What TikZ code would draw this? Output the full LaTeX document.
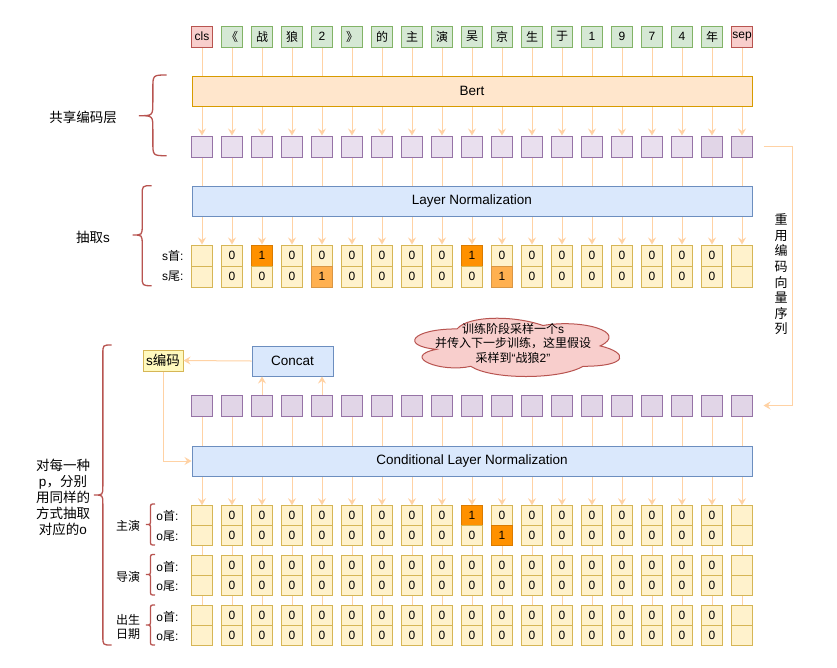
\documentclass[tikz,border=0pt]{standalone}
\usepackage{fontspec}
\setmainfont{Liberation Sans}
\newfontfamily\cjk{Noto Sans CJK SC}
\usetikzlibrary{arrows.meta,backgrounds,calc}
\newcommand\zh[1]{{\cjk #1}}
\definecolor{tokF}{HTML}{D5E8D4}\definecolor{tokD}{HTML}{82B366}
\definecolor{redF}{HTML}{F8CECC}\definecolor{redD}{HTML}{B85450}
\definecolor{bertF}{HTML}{FFE6CC}\definecolor{bertD}{HTML}{D79B00}
\definecolor{purF}{HTML}{E1D5E7}\definecolor{purL}{HTML}{E9DFEE}\definecolor{purD}{HTML}{9673A6}
\definecolor{bluF}{HTML}{DAE8FC}\definecolor{bluD}{HTML}{6C8EBF}
\definecolor{yelF}{HTML}{FFF2CC}\definecolor{yelD}{HTML}{D6B656}
\definecolor{orD}{HTML}{FF9100}\definecolor{orL}{HTML}{FFB050}
\definecolor{arrC}{HTML}{FFD2A4}
\definecolor{sencF}{HTML}{FFF9BE}
\newcommand\cellrow[4]{\foreach \v/\s [count=\i from 0] in #4 {\node[cell, minimum height=#3, \s] (#1\i) at ({202+30*\i},#2) {\v};}}
\newcommand\mybrace[5]{% tip x, end x, top y, bottom y, tip y
  \pgfmathsetmacro\xm{(#1+#2)/2}\pgfmathsetmacro\rr{(#2-#1)/2}
  \draw[brc] (#2,#3) .. controls (\xm,#3) .. (\xm,#3+\rr) -- (\xm,#5-\rr) .. controls (\xm,#5) .. (#1,#5)
    .. controls (\xm,#5) .. (\xm,#5+\rr) -- (\xm,#4-\rr) .. controls (\xm,#4) .. (#2,#4);}
\def\zl{{}/cy,0/cy,0/cy,0/cy,0/cy,0/cy,0/cy,0/cy,0/cy,0/cy,0/cy,0/cy,0/cy,0/cy,0/cy,0/cy,0/cy,0/cy,{}/cy}
\begin{document}
\begin{tikzpicture}[x=1pt,y=-1pt,
  base/.style={line width=1pt, inner sep=0pt},
  tok/.style={base, draw=tokD, fill=tokF, minimum width=21pt, minimum height=21pt, font=\fontsize{12}{12}\selectfont},
  tokr/.style={tok, draw=redD, fill=redF},
  pur/.style={base, draw=purD, fill=purF, minimum width=21pt, minimum height=21pt},
  purl/.style={pur, fill=purL},
  wide/.style={base, minimum width=560pt, minimum height=30pt, font=\fontsize{13.5}{13.5}\selectfont},
  bert/.style={wide, draw=bertD, fill=bertF},
  blu/.style={wide, draw=bluD, fill=bluF},
  cell/.style={base, draw=yelD, minimum width=20.5pt, font=\fontsize{12}{12}\selectfont},
  cy/.style={fill=yelF},
  co/.style={fill=orD, draw=orD!85!black},
  ch/.style={fill=orL, draw=orL!85!black},
  conn/.style={draw=arrC, line width=1pt, -{Stealth[length=7pt,width=8pt,inset=2.5pt]}},
  myplain/.style={draw=arrC, line width=1pt},
  brc/.style={draw=redD, line width=1.3pt},
  lab/.style={font=\fontsize{13.5}{16}\selectfont, align=center},
  sm/.style={font=\fontsize{12}{14.7}\selectfont, align=center},
  rl/.style={font=\fontsize{12}{12}\selectfont, anchor=east}]
\useasboundingbox (0,0) rectangle (837,667);

% tokens
\node[tokr] (t0) at (202,36.5) {cls};
\foreach \t [count=\i from 1] in {\zh{《},\zh{战},\zh{狼},2,\zh{》},\zh{的},\zh{主},\zh{演},\zh{吴},\zh{京},\zh{生},\zh{于},1,9,7,4,\zh{年}}
  \node[tok] (t\i) at ({202+30*\i},36.5) {\t};
\node[tokr] (t18) at (742,36.5) {sep};

\node[bert] (bert) at (472,91) {Bert};
\foreach \i in {0,...,16} \node[purl] (p\i) at ({202+30*\i},146.5) {};
\foreach \i in {17,18} \node[pur] (p\i) at ({202+30*\i},146.5) {};

\node[blu] (ln) at (472,201) {Layer Normalization};
\cellrow{sa}{255.5}{21pt}{{{}/cy,0/cy,1/co,0/cy,0/cy,0/cy,0/cy,0/cy,0/cy,1/co,0/cy,0/cy,0/cy,0/cy,0/cy,0/cy,0/cy,0/cy,{}/cy}}
\cellrow{sb}{276.5}{21pt}{{{}/cy,0/cy,0/cy,0/cy,1/ch,0/cy,0/cy,0/cy,0/cy,0/cy,1/ch,0/cy,0/cy,0/cy,0/cy,0/cy,0/cy,0/cy,{}/cy}}
\node[rl] at (187,255.5) {s\zh{首}:};
\node[rl] at (187,276.5) {s\zh{尾}:};

% cloud (draw.io cloud outline)
\begin{scope}[shift={(399.8,311.9)}, xscale=229, yscale=68]
  \filldraw[draw=redD, fill=redF, line width=1pt]
    (0.25,0.25) .. controls (0.05,0.25) and (0,0.5) .. (0.16,0.55)
    .. controls (0,0.66) and (0.18,0.9) .. (0.31,0.8)
    .. controls (0.4,1) and (0.7,1) .. (0.8,0.8)
    .. controls (1,0.8) and (1,0.6) .. (0.875,0.5)
    .. controls (1,0.3) and (0.8,0.1) .. (0.625,0.2)
    .. controls (0.5,0.05) and (0.3,0.05) .. (0.25,0.25) -- cycle;
\end{scope}
\node[font=\fontsize{12}{14.5}\selectfont, align=center] (cloudtxt) at (513,343) {\zh{训练阶段采样一个}s\\\zh{并传入下一步训练，这里假设}\\\zh{采样到}“\zh{战狼}2”};

\node[base, draw=bluD, fill=bluF, minimum width=81pt, minimum height=30pt, font=\fontsize{13.5}{13.5}\selectfont] (concat) at (292.5,361) {Concat};
\node[base, draw=yelD, fill=sencF, minimum width=40pt, minimum height=21pt, font=\fontsize{13.5}{13.5}\selectfont] (senc) at (163,360.5) {s\zh{编码}};

\foreach \i in {0,...,18} \node[pur] (q\i) at ({202+30*\i},405.5) {};
\node[blu] (cln) at (472,461) {Conditional Layer Normalization};

\cellrow{oA}{515.7}{20pt}{{{}/cy,0/cy,0/cy,0/cy,0/cy,0/cy,0/cy,0/cy,0/cy,1/co,0/cy,0/cy,0/cy,0/cy,0/cy,0/cy,0/cy,0/cy,{}/cy}}
\cellrow{oB}{535.7}{20pt}{{{}/cy,0/cy,0/cy,0/cy,0/cy,0/cy,0/cy,0/cy,0/cy,0/cy,1/co,0/cy,0/cy,0/cy,0/cy,0/cy,0/cy,0/cy,{}/cy}}
\cellrow{dA}{565.7}{20pt}{\zl}
\cellrow{dB}{585.7}{20pt}{\zl}
\cellrow{bA}{615.7}{20pt}{\zl}
\cellrow{bB}{635.7}{20pt}{\zl}
\node[rl] at (182,516) {o\zh{首}:};
\node[rl] at (182,536) {o\zh{尾}:};
\node[rl] at (182,566.5) {o\zh{首}:};
\node[rl] at (182,586.5) {o\zh{尾}:};
\node[rl] at (182,616.5) {o\zh{首}:};
\node[rl] at (182,636) {o\zh{尾}:};

% labels and braces
\node[lab] (l1) at (83,117.5) {\zh{共享编码层}};
\node[lab] (l2) at (93,237) {\zh{抽取}s};
\node[lab] (l3) at (63,497) {\zh{对每一种}\\p\zh{，分别}\\\zh{用同样的}\\\zh{方式抽取}\\\zh{对应的}o};
\node[sm] (l4) at (128,526) {\zh{主演}};
\node[sm] (l5) at (128,576.5) {\zh{导演}};
\node[sm] (l6) at (128,627) {\zh{出生}\\\zh{日期}};
\node[font=\fontsize{13}{15.6}\selectfont, align=center] (vt) at (781,274.5) {\zh{重}\\\zh{用}\\\zh{编}\\\zh{码}\\\zh{向}\\\zh{量}\\\zh{序}\\\zh{列}};

\mybrace{139}{166.7}{75}{155.7}{115.7}
\mybrace{132.7}{151.7}{185.7}{285.7}{235}
\mybrace{94}{111.7}{345}{645}{495}
\mybrace{146}{155}{504}{545}{524.5}
\mybrace{146}{155}{554.5}{595}{574.5}
\mybrace{146}{155}{605}{645}{625}

% connectors on top
\draw[conn] (q2.north) -- (q2.north |- concat.south);
\draw[conn] (q4.north) -- (q4.north |- concat.south);
\draw[conn] (concat.west) -- (senc.east);
\draw[conn] (senc.south) |- (cln.west);
\coordinate (rA) at ($(p18.east)+(10.5,0)$);
\coordinate (rB) at ($(q18.east)+(10.5,0)$);
\draw[conn] (rA) -- ++(29,0) |- (rB);

\begin{scope}[on background layer]
  \fill[white] (0,0) rectangle (837,667);
  \foreach \i in {0,...,18} {
    \draw[conn] (t\i) -- (p\i);
    \draw[conn] (p\i) -- (sa\i);
    \draw[conn] (q\i) -- (oA\i);
    \draw[myplain] (oB\i) -- (dA\i);
    \draw[myplain] (dB\i) -- (bA\i);
  }
\end{scope}
\end{tikzpicture}
\end{document}
